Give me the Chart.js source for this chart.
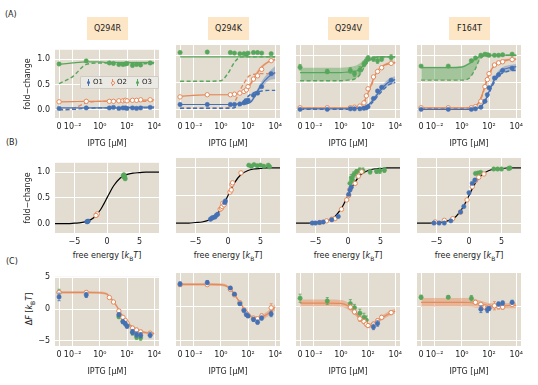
<!DOCTYPE html>
<html>
<head>
<meta charset="utf-8">
<title>Inducer-binding mutants: induction, collapse and free-energy shift</title>
<script src="https://cdn.jsdelivr.net/npm/chart.js@4.4.1/dist/chart.umd.min.js"></script>
<style>
  html, body { margin: 0; padding: 0; background: #fff; }
  #fig { position: relative; width: 538px; height: 385px; overflow: hidden; font-family: "DejaVu Sans", sans-serif; color: #222; }
  #fig canvas { position: absolute; }
  .tag { position: absolute; font-size: 8px; line-height: 10px; }
  .mut { position: absolute; top: 17px; width: 41px; height: 23px; line-height: 23px; background: #fde6c6; font-size: 8px; text-align: center; }
  .xlab { position: absolute; width: 104px; text-align: center; font-size: 8px; line-height: 10px; white-space: nowrap; }
  .ylab { position: absolute; width: 60px; text-align: center; font-size: 8px; line-height: 10px; white-space: nowrap; transform: rotate(-90deg); }
  sub { font-size: 6px; line-height: 0; }
  .legend { position: absolute; z-index: 5; left: 80px; top: 76px; width: 77px; height: 11px; background: rgba(236,233,228,0.92); border: 0.5px solid #d0ccc4; border-radius: 1px; font-size: 7px; line-height: 11px; }
  .legend span { position: absolute; top: 0; }
  .legend i { position: absolute; top: 4px; width: 3px; height: 3px; border-radius: 50%; }
  .legend b { position: absolute; top: 2px; width: 1px; height: 7px; }
</style>
</head>
<body>
<div id="fig">
  <div class="tag" style="left:5px;top:10px">(A)</div>
  <div class="tag" style="left:6px;top:138px">(B)</div>
  <div class="tag" style="left:6px;top:257px">(C)</div>

  <div class="mut" style="left:87px">Q294R</div>
  <div class="mut" style="left:208px">Q294K</div>
  <div class="mut" style="left:328px">Q294V</div>
  <div class="mut" style="left:449px">F164T</div>

  <div class="xlab" style="left:55px;top:251px">free energy [<i>k</i><sub>B</sub><i>T</i>]</div>
  <div class="xlab" style="left:176px;top:251px">free energy [<i>k</i><sub>B</sub><i>T</i>]</div>
  <div class="xlab" style="left:296px;top:251px">free energy [<i>k</i><sub>B</sub><i>T</i>]</div>
  <div class="xlab" style="left:417px;top:251px">free energy [<i>k</i><sub>B</sub><i>T</i>]</div>
  <div class="ylab" style="left:0px;top:304px">Δ<i>F</i> [<i>k</i><sub>B</sub><i>T</i>]</div>

  <div class="legend">
    <b style="left:7px;background:#4470b4"></b><i style="left:6px;background:#4470b4"></i><span style="left:12px">O1</span>
    <b style="left:31px;background:#e58a5b"></b><i style="left:30px;background:#fff;border:0.5px solid #e58a5b;width:2px;height:2px"></i><span style="left:36px">O2</span>
    <b style="left:56px;background:#56a65b"></b><i style="left:55px;background:#56a65b"></i><span style="left:61px">O3</span>
  </div>
</div>

<script>
// 공통 농도 (µM) - 측정점과 곡선용
var iptg = [0, 0.1, 5, 10, 25, 50, 75, 100, 250, 500, 1000, 5000];
var curveIptg = [0, 0.01, 0.1, 1, 3.2, 10, 18, 32, 56, 100, 180, 320, 560, 1000, 3200, 10000];

// (A) fold-change - Q294R
var q294rO1 = [0.03, 0.04, 0.04, 0.05, 0.03, 0.04, 0.04, 0.03, 0.04, 0.03, 0.04, 0.05];
var q294rO2 = [0.16, 0.17, 0.17, 0.17, 0.18, 0.18, 0.19, 0.18, 0.19, 0.19, 0.2, 0.2];
var q294rO3 = [0.91, 0.97, 0.93, 0.92, 0.9, 0.9, 0.91, 0.92, 0.88, 0.9, 0.89, 0.93];
var q294rO1Fit = [0.04, 0.04, 0.04, 0.04, 0.04, 0.04, 0.04, 0.045, 0.045, 0.05, 0.05, 0.05, 0.05, 0.055, 0.055, 0.06];
var q294rO1Pred = [0.0, 0.01, 0.03, 0.04, 0.04, 0.04, 0.04, 0.04, 0.04, 0.04, 0.04, 0.04, 0.04, 0.04, 0.04, 0.04];
var q294rO2Fit = [0.16, 0.165, 0.17, 0.17, 0.175, 0.175, 0.18, 0.18, 0.185, 0.185, 0.19, 0.19, 0.19, 0.195, 0.195, 0.2];
var q294rO2Pred = [0.01, 0.03, 0.14, 0.17, 0.17, 0.17, 0.17, 0.17, 0.17, 0.17, 0.17, 0.17, 0.17, 0.17, 0.17, 0.17];
var q294rO3Fit = [0.9, 0.93, 0.95, 0.95, 0.94, 0.94, 0.94, 0.94, 0.94, 0.94, 0.94, 0.94, 0.94, 0.94, 0.94, 0.94];
var q294rO3Pred = [0.52, 0.66, 0.9, 0.93, 0.93, 0.93, 0.93, 0.93, 0.93, 0.92, 0.92, 0.92, 0.91, 0.91, 0.92, 0.92];

// (A) fold-change - Q294K
var q294kO1 = [0.09, 0.09, 0.09, 0.09, 0.1, 0.12, 0.15, 0.17, 0.26, 0.3, 0.42, 0.66];
var q294kO2 = [0.23, 0.27, 0.27, 0.28, 0.3, 0.33, 0.36, 0.42, 0.56, 0.62, 0.74, 0.9];
var q294kO3 = [1.05, 1.06, 1.05, 1.04, 1.03, 1.03, 1.02, 1.04, 1.05, 1.05, 1.04, 1.03];
var q294kO1Fit = [0.09, 0.09, 0.09, 0.09, 0.09, 0.09, 0.1, 0.1, 0.1, 0.11, 0.15, 0.25, 0.36, 0.46, 0.6, 0.68];
var q294kO1Hi = [0.1, 0.1, 0.1, 0.1, 0.1, 0.1, 0.11, 0.11, 0.12, 0.13, 0.18, 0.29, 0.41, 0.52, 0.68, 0.8];
var q294kO1Lo = [0.08, 0.08, 0.08, 0.08, 0.08, 0.08, 0.09, 0.09, 0.09, 0.1, 0.13, 0.21, 0.31, 0.4, 0.53, 0.56];
var q294kO1Pred = [0.02, 0.02, 0.02, 0.02, 0.02, 0.03, 0.06, 0.11, 0.18, 0.24, 0.29, 0.32, 0.33, 0.34, 0.35, 0.35];
var q294kO2Fit = [0.24, 0.26, 0.27, 0.27, 0.27, 0.28, 0.29, 0.31, 0.35, 0.41, 0.5, 0.6, 0.7, 0.78, 0.88, 0.92];
var q294kO2Hi = [0.25, 0.27, 0.28, 0.28, 0.28, 0.29, 0.3, 0.33, 0.37, 0.44, 0.54, 0.64, 0.74, 0.81, 0.9, 0.94];
var q294kO2Lo = [0.23, 0.25, 0.26, 0.26, 0.26, 0.27, 0.28, 0.29, 0.33, 0.38, 0.46, 0.56, 0.66, 0.75, 0.86, 0.9];
var q294kO2Pred = [0.02, 0.02, 0.02, 0.02, 0.03, 0.13, 0.26, 0.4, 0.5, 0.6, 0.64, 0.65, 0.66, 0.66, 0.66, 0.66];
var q294kO3Fit = [0.97, 0.97, 0.97, 0.97, 0.97, 0.97, 0.97, 0.97, 0.97, 0.97, 0.97, 0.97, 0.97, 0.97, 0.97, 0.97];
var q294kO3Pred = [0.52, 0.52, 0.52, 0.53, 0.66, 0.87, 0.94, 0.97, 0.97, 0.97, 0.97, 0.97, 0.97, 0.97, 0.97, 0.97];

// (A) fold-change - Q294V
var q294vO1 = [0.0, 0.0, 0.01, 0.01, 0.01, 0.02, 0.03, 0.05, 0.2, 0.34, 0.41, 0.54];
var q294vO2 = [0.03, 0.03, 0.03, 0.04, 0.06, 0.12, 0.25, 0.38, 0.6, 0.7, 0.77, 0.85];
var q294vO3 = [0.78, 0.7, 0.72, 0.66, 0.73, 0.84, 0.9, 0.95, 0.93, 0.9, 0.93, 0.96];
var q294vO3Err = [0.05, 0.04, 0.05, 0.05, 0.06, 0.05, 0.05, 0.04, 0.04, 0.05, 0.04, 0.05];
var q294vO1Fit = [0.01, 0.01, 0.01, 0.01, 0.01, 0.01, 0.02, 0.03, 0.05, 0.08, 0.14, 0.22, 0.3, 0.38, 0.5, 0.55];
var q294vO1Hi = [0.02, 0.02, 0.02, 0.02, 0.02, 0.02, 0.03, 0.04, 0.06, 0.1, 0.17, 0.26, 0.35, 0.43, 0.56, 0.61];
var q294vO1Lo = [0.0, 0.0, 0.0, 0.0, 0.0, 0.0, 0.01, 0.02, 0.04, 0.06, 0.11, 0.18, 0.25, 0.33, 0.44, 0.48];
var q294vO1Pred = [0.0, 0.0, 0.0, 0.0, 0.0, 0.01, 0.01, 0.02, 0.04, 0.06, 0.11, 0.18, 0.26, 0.33, 0.45, 0.5];
var q294vO2Fit = [0.03, 0.03, 0.03, 0.03, 0.03, 0.04, 0.05, 0.08, 0.16, 0.3, 0.47, 0.62, 0.73, 0.79, 0.85, 0.87];
var q294vO2Hi = [0.04, 0.04, 0.04, 0.04, 0.04, 0.05, 0.06, 0.1, 0.19, 0.34, 0.51, 0.65, 0.75, 0.81, 0.87, 0.89];
var q294vO2Lo = [0.02, 0.02, 0.02, 0.02, 0.02, 0.03, 0.04, 0.07, 0.14, 0.27, 0.43, 0.59, 0.71, 0.77, 0.83, 0.85];
var q294vO2Pred = [0.02, 0.02, 0.02, 0.02, 0.02, 0.03, 0.04, 0.07, 0.14, 0.28, 0.45, 0.6, 0.71, 0.78, 0.84, 0.86];
var q294vO3Fit = [0.68, 0.68, 0.68, 0.68, 0.69, 0.7, 0.72, 0.77, 0.84, 0.9, 0.94, 0.96, 0.97, 0.97, 0.97, 0.97];
var q294vO3Hi = [0.77, 0.77, 0.77, 0.77, 0.78, 0.8, 0.83, 0.87, 0.92, 0.95, 0.97, 0.98, 0.98, 0.98, 0.98, 0.98];
var q294vO3Lo = [0.53, 0.53, 0.53, 0.53, 0.54, 0.56, 0.6, 0.68, 0.78, 0.87, 0.92, 0.95, 0.96, 0.96, 0.96, 0.96];
var q294vO3Pred = [0.53, 0.53, 0.53, 0.53, 0.54, 0.56, 0.6, 0.68, 0.79, 0.88, 0.93, 0.96, 0.97, 0.97, 0.97, 0.97];

// (A) fold-change - F164T
var f164tO1 = [0.0, 0.0, 0.0, 0.01, 0.04, 0.15, 0.27, 0.4, 0.58, 0.64, 0.72, 0.76];
var f164tO2 = [0.03, 0.03, 0.03, 0.05, 0.15, 0.42, 0.55, 0.66, 0.82, 0.86, 0.88, 0.92];
var f164tO3 = [0.8, 0.8, 0.9, 0.95, 1.0, 1.02, 1.01, 1.0, 1.0, 1.0, 1.01, 1.02];
var f164tO1Fit = [0.0, 0.0, 0.0, 0.0, 0.0, 0.01, 0.03, 0.08, 0.18, 0.33, 0.48, 0.6, 0.68, 0.73, 0.77, 0.79];
var f164tO1Hi = [0.01, 0.01, 0.01, 0.01, 0.01, 0.02, 0.04, 0.1, 0.21, 0.37, 0.53, 0.65, 0.73, 0.78, 0.82, 0.84];
var f164tO1Lo = [0.0, 0.0, 0.0, 0.0, 0.0, 0.0, 0.02, 0.06, 0.15, 0.29, 0.43, 0.55, 0.62, 0.67, 0.7, 0.72];
var f164tO1Pred = [0.0, 0.0, 0.0, 0.0, 0.0, 0.01, 0.02, 0.07, 0.16, 0.3, 0.44, 0.55, 0.63, 0.67, 0.71, 0.72];
var f164tO2Fit = [0.03, 0.03, 0.03, 0.03, 0.03, 0.06, 0.13, 0.28, 0.48, 0.65, 0.77, 0.84, 0.88, 0.9, 0.92, 0.93];
var f164tO2Hi = [0.04, 0.04, 0.04, 0.04, 0.04, 0.08, 0.16, 0.31, 0.51, 0.68, 0.79, 0.86, 0.9, 0.92, 0.94, 0.95];
var f164tO2Lo = [0.02, 0.02, 0.02, 0.02, 0.02, 0.04, 0.11, 0.25, 0.45, 0.62, 0.75, 0.82, 0.86, 0.88, 0.9, 0.91];
var f164tO2Pred = [0.02, 0.02, 0.02, 0.02, 0.03, 0.05, 0.12, 0.26, 0.46, 0.63, 0.76, 0.83, 0.87, 0.89, 0.91, 0.92];
var f164tO3Fit = [0.77, 0.77, 0.77, 0.78, 0.84, 0.93, 0.97, 0.99, 1.0, 1.0, 1.0, 1.0, 1.0, 1.0, 1.0, 1.0];
var f164tO3Hi = [0.79, 0.79, 0.79, 0.8, 0.86, 0.94, 0.98, 1.0, 1.01, 1.01, 1.01, 1.01, 1.01, 1.01, 1.01, 1.01];
var f164tO3Lo = [0.54, 0.54, 0.54, 0.54, 0.57, 0.75, 0.9, 0.97, 0.99, 1.0, 1.0, 1.0, 1.0, 1.0, 1.0, 1.0];
var f164tO3Pred = [0.54, 0.54, 0.54, 0.54, 0.57, 0.75, 0.9, 0.97, 0.99, 1.0, 1.0, 1.0, 1.0, 1.0, 1.0, 1.0];

// (B) data collapse: [free energy, fold-change, err]
var energyGrid = [-8, -6, -5, -4, -3, -2, -1, -0.5, 0, 0.5, 1, 2, 3, 4, 5, 6, 8];
var collapseCurve = [0.0, 0.0, 0.01, 0.02, 0.05, 0.12, 0.27, 0.38, 0.5, 0.62, 0.73, 0.88, 0.95, 0.98, 0.99, 1.0, 1.0];
var bQ294rO1 = [[-3.0, 0.04], [-2.9, 0.05], [-3.1, 0.04]];
var bQ294rO2 = [[-1.6, 0.17], [-1.5, 0.19], [-1.7, 0.16]];
var bQ294rO3 = [[2.5, 0.93], [2.6, 0.91], [2.7, 0.9], [2.6, 0.95], [2.8, 0.87], [2.7, 0.92]];
var bQ294kO1 = [[-2.7, 0.07], [-2.5, 0.09], [-2.3, 0.1], [-2.0, 0.11], [-1.8, 0.14], [-1.6, 0.16], [-0.5, 0.37], [-0.4, 0.4]];
var bQ294kO2 = [[-1.2, 0.25], [-1.0, 0.27], [-0.9, 0.3], [-0.8, 0.36], [-0.6, 0.33], [0.3, 0.56], [0.5, 0.6], [0.6, 0.7], [0.7, 0.73], [2.0, 0.91]];
var bQ294kO3 = [[3.2, 1.05], [3.6, 1.03], [4.0, 1.06], [4.5, 1.04], [5.0, 1.05], [5.5, 1.03], [6.2, 1.05], [6.4, 1.02]];
var bQ294vO1 = [[-5.5, 0.0], [-5.0, 0.0], [-4.4, 0.01], [-3.8, 0.02], [-2.5, 0.06], [-1.5, 0.12], [0.1, 0.52], [0.3, 0.6], [0.5, 0.65]];
var bQ294vO2 = [[-4.3, 0.01], [-3.3, 0.04], [-2.5, 0.07], [-2.0, 0.08], [-1.0, 0.25], [-0.2, 0.42], [0.1, 0.5], [0.3, 0.61], [1.1, 0.72], [1.6, 0.85], [2.1, 0.93]];
var bQ294vO3 = [[0.3, 0.72, 0.06], [0.5, 0.82, 0.06], [0.7, 0.78, 0.05], [0.9, 0.88, 0.05], [1.3, 0.93, 0.04], [1.8, 0.96, 0.04], [2.3, 0.95, 0.05], [3.4, 0.93, 0.04], [4.4, 0.94, 0.04], [4.9, 0.95, 0.05], [5.6, 0.96, 0.04]];
var bF164tO1 = [[-5.4, 0.0], [-4.6, 0.0], [-3.8, 0.0], [-2.8, 0.04], [-1.3, 0.2], [-0.8, 0.3], [0.0, 0.55], [0.5, 0.72], [0.9, 0.78]];
var bF164tO2 = [[-5.2, 0.02], [-3.8, 0.05], [-2.5, 0.08], [-1.3, 0.2], [-0.3, 0.42], [0.5, 0.66], [1.0, 0.77], [1.5, 0.83], [2.3, 0.89]];
var bF164tO3 = [[1.0, 0.9], [1.4, 0.91], [1.8, 0.92], [3.8, 0.98], [4.4, 0.98], [5.0, 0.98], [6.1, 0.99], [6.3, 1.0]];

// (C) ΔF (k_BT) per IPTG
var cQ294rO1 = [1.9, 2.2, null, null, -0.9, -2.0, -2.3, -2.7, -3.6, -4.0, -4.1, -4.1];
var cQ294rO1Err = [0.6, 0.4, 0, 0, 0.3, 0.3, 0.3, 0.3, 0.4, 0.4, 0.4, 0.4];
var cQ294rO2 = [2.6, 2.6, 1.8, 1.1, -0.3, -1.3, -1.8, -2.2, -3.0, -3.3, -3.6, -3.8];
var cQ294rO2Err = [0.3, 0.3, 0.2, 0.2, 0.2, 0.2, 0.3, 0.3, 0.3, 0.3, 0.3, 0.3];
var cQ294rO3 = [2.6, null, null, null, -1.2, -1.9, -2.2, -2.5, -3.7, -4.4, -4.5, null];
var cQ294rO3Err = [0.5, 0, 0, 0, 0.3, 0.3, 0.3, 0.3, 0.4, 0.4, 0.4, 0];
var cQ294rFit = [2.6, 2.6, 2.6, 2.55, 2.35, 1.2, 0.4, -0.5, -1.3, -2.0, -2.6, -3.0, -3.3, -3.55, -3.75, -3.85];
var cQ294rHi = [2.8, 2.8, 2.8, 2.75, 2.55, 1.4, 0.6, -0.3, -1.1, -1.8, -2.4, -2.8, -3.1, -3.35, -3.55, -3.65];
var cQ294rLo = [2.4, 2.4, 2.4, 2.35, 2.15, 1.0, 0.2, -0.7, -1.5, -2.2, -2.8, -3.2, -3.5, -3.75, -3.95, -4.05];

var cQ294kO1 = [3.3, 3.5, 2.7, 1.8, 0.4, -0.6, -1.2, -1.4, -1.9, -2.3, -1.7, -1.1];
var cQ294kO1Err = [0.3, 0.3, 0.2, 0.2, 0.2, 0.2, 0.2, 0.2, 0.3, 0.3, 0.3, 0.4];
var cQ294kO2 = [3.2, 3.2, 2.5, 1.7, 0.55, -0.5, -1.0, -1.3, -1.7, -1.8, -1.4, -0.2];
var cQ294kO2Err = [0.2, 0.2, 0.2, 0.2, 0.2, 0.2, 0.2, 0.2, 0.2, 0.2, 0.3, 0.6];
var cQ294kFit = [3.25, 3.25, 3.25, 3.2, 2.9, 1.8, 1.0, 0.3, -0.5, -1.1, -1.5, -1.7, -1.75, -1.6, -1.0, -0.1];
var cQ294kHi = [3.45, 3.45, 3.45, 3.4, 3.1, 2.0, 1.2, 0.5, -0.3, -0.9, -1.3, -1.45, -1.45, -1.25, -0.6, 0.35];
var cQ294kLo = [3.05, 3.05, 3.05, 3.0, 2.7, 1.6, 0.8, 0.1, -0.7, -1.3, -1.7, -1.95, -2.05, -1.95, -1.4, -0.55];

var cQ294vO1 = [null, null, null, null, null, null, null, null, -3.0, -2.5, null, null];
var cQ294vO1Err = [0, 0, 0, 0, 0, 0, 0, 0, 0.4, 0.4, 0, 0];
var cQ294vO2 = [null, null, -0.1, -0.8, -1.8, -2.2, -2.6, -2.8, -2.6, -2.1, -1.6, -0.9];
var cQ294vO2Err = [0, 0, 0.3, 0.3, 0.4, 0.3, 0.3, 0.3, 0.3, 0.3, 0.3, 0.3];
var cQ294vO3 = [1.2, 0.8, 0.4, -0.2, -1.0, -1.6, -2.0, null, null, null, null, null];
var cQ294vO3Err = [0.6, 0.5, 0.6, 0.5, 0.6, 0.6, 0.6, 0, 0, 0, 0, 0];
var cQ294vFit = [0.5, 0.5, 0.5, 0.45, 0.1, -0.8, -1.4, -2.0, -2.5, -2.8, -2.8, -2.5, -2.1, -1.7, -1.1, -0.7];
var cQ294vHi = [1.0, 1.0, 1.0, 0.95, 0.6, -0.4, -1.05, -1.7, -2.2, -2.5, -2.45, -2.15, -1.75, -1.35, -0.75, -0.35];
var cQ294vLo = [0.0, 0.0, 0.0, -0.05, -0.4, -1.2, -1.75, -2.3, -2.8, -3.1, -3.15, -2.85, -2.45, -2.05, -1.45, -1.05];

var cF164tO1 = [null, null, null, null, -0.4, null, -0.5, -0.3, null, 0.35, 0.5, 0.6];
var cF164tO1Err = [0, 0, 0, 0, 0.5, 0, 0.4, 0.3, 0, 0.3, 0.3, 0.3];
var cF164tO2 = [null, null, null, 0.6, 0.3, -0.1, -0.2, -0.1, 0.1, 0.0, -0.1, 0.3];
var cF164tO2Err = [0, 0, 0, 0.3, 0.3, 0.3, 0.3, 0.3, 0.6, 0.4, 0.3, 0.3];
var cF164tO3 = [1.35, 1.35, 1.2, null, null, null, null, null, null, null, null, null];
var cF164tO3Err = [0.3, 0.2, 0.4, 0, 0, 0, 0, 0, 0, 0, 0, 0];
var cF164tFit = [0.6, 0.6, 0.6, 0.6, 0.58, 0.45, 0.35, 0.25, 0.15, 0.1, 0.06, 0.05, 0.06, 0.08, 0.12, 0.15];
var cF164tHi = [1.25, 1.25, 1.25, 1.25, 1.22, 1.05, 0.9, 0.75, 0.6, 0.5, 0.45, 0.42, 0.42, 0.45, 0.5, 0.55];
var cF164tLo = [-0.05, -0.05, -0.05, -0.05, -0.06, -0.15, -0.2, -0.25, -0.3, -0.3, -0.33, -0.32, -0.3, -0.29, -0.26, -0.25];

// 색상
var BLUE = "#4470b4", ORANGE = "#e58a5b", GREEN = "#56a65b";
var BLUE_BAND = "rgba(68,112,180,0.35)", ORANGE_BAND = "rgba(229,138,91,0.45)", GREEN_BAND = "rgba(86,166,91,0.45)";
var PANEL_BG = "#e3dcd0";

// 패널 배치
var LEFTS = [55, 176, 296, 417];
var PANEL_W = 104;
var ROW_A = { top: 45, h: 73 }, ROW_B = { top: 158, h: 75 }, ROW_C = { top: 272, h: 74 };
var YW = 32, PT = 5, PR = 10, XH = 31;

Chart.defaults.font.family = "'DejaVu Sans', sans-serif";
Chart.defaults.font.size = 8;
Chart.defaults.color = "#222";

// symlog 축 (0 ~ 10^-2 선형 구간)
function symlog(c) {
	return c < 0.01 ? -3 + c / 0.01 : Math.log10(c);
}

function toPts(xs, ys, errs) {
	var out = [];
	for (var i = 0; i < ys.length; i++) {
		if (ys[i] === null) continue;
		out.push({ x: symlog(xs[i]), y: ys[i], e: errs ? errs[i] : 0 });
	}
	return out;
}

function pairPts(pairs) {
	return pairs.map(function(p) { return { x: p[0], y: p[1], e: p[2] || 0 }; });
}

function dots(color, hollow, data) {
	return {
		data: data, showLine: false, order: 0, borderColor: color,
		pointRadius: 2.2, pointBorderWidth: hollow ? 1 : 0.5,
		pointBackgroundColor: hollow ? "#fff" : color, pointBorderColor: color
	};
}

function line(color, data, dashed) {
	return {
		data: data, order: 1, borderColor: color, borderWidth: dashed ? 1.4 : 1.2,
		borderDash: dashed ? [4, 2.5] : [], pointRadius: 0, cubicInterpolationMode: "monotone", fill: false
	};
}

function band(color, hi, lo) {
	return [
		{ data: hi, order: 2, borderWidth: 0, pointRadius: 0, cubicInterpolationMode: "monotone", backgroundColor: color, fill: "+1" },
		{ data: lo, order: 2, borderWidth: 0, pointRadius: 0, cubicInterpolationMode: "monotone", fill: false }
	];
}

function inductionSets(m) {
	var sets = [
		dots(BLUE, false, toPts(iptg, m.o1)),
		dots(ORANGE, true, toPts(iptg, m.o2)),
		dots(GREEN, false, toPts(iptg, m.o3, m.o3Err))
	];
	[["o1", BLUE, BLUE_BAND], ["o2", ORANGE, ORANGE_BAND], ["o3", GREEN, GREEN_BAND]].forEach(function(s) {
		sets.push(line(s[1], toPts(curveIptg, m[s[0] + "Fit"]), false));
		sets.push(line(s[1], toPts(curveIptg, m[s[0] + "Pred"]), true));
		if (m[s[0] + "Hi"]) {
			sets = sets.concat(band(s[2], toPts(curveIptg, m[s[0] + "Hi"]), toPts(curveIptg, m[s[0] + "Lo"])));
		}
	});
	return sets;
}

function collapseSets(o1, o2, o3) {
	var curve = energyGrid.map(function(f, i) { return { x: f, y: collapseCurve[i] }; });
	return [
		dots(BLUE, false, pairPts(o1)),
		dots(ORANGE, true, pairPts(o2)),
		dots(GREEN, false, pairPts(o3)),
		line("#000", curve, false)
	];
}

function deltaFSets(m) {
	return [
		dots(BLUE, false, toPts(iptg, m.o1, m.o1Err)),
		dots(ORANGE, true, toPts(iptg, m.o2, m.o2Err)),
		dots(GREEN, false, toPts(iptg, m.o3, m.o3Err)),
		line(ORANGE, toPts(curveIptg, m.fit), false)
	].concat(band(ORANGE_BAND, toPts(curveIptg, m.hi), toPts(curveIptg, m.lo)));
}

// 패널 배경
var panelBg = {
	id: "panelBg",
	beforeDraw: function(chart) {
		var a = chart.chartArea, ctx = chart.ctx;
		ctx.save();
		ctx.fillStyle = PANEL_BG;
		ctx.fillRect(a.left, a.top, a.right - a.left, a.bottom - a.top);
		ctx.restore();
	}
};

// 오차 막대
var errorBars = {
	id: "errorBars",
	beforeDatasetDraw: function(chart, args) {
		var ds = chart.data.datasets[args.index];
		if (ds.showLine !== false) return;
		var ys = chart.scales.y, ctx = chart.ctx;
		ctx.save();
		ctx.strokeStyle = ds.borderColor;
		ctx.lineWidth = 0.8;
		args.meta.data.forEach(function(pt, i) {
			var d = ds.data[i];
			if (!d.e) return;
			var top = ys.getPixelForValue(d.y + d.e), bot = ys.getPixelForValue(d.y - d.e);
			ctx.beginPath();
			ctx.moveTo(pt.x, top); ctx.lineTo(pt.x, bot);
			ctx.moveTo(pt.x - 1.5, top); ctx.lineTo(pt.x + 1.5, top);
			ctx.moveTo(pt.x - 1.5, bot); ctx.lineTo(pt.x + 1.5, bot);
			ctx.stroke();
		});
		ctx.restore();
	}
};

var iptgTicks = [-3, -2, 0, 2, 4];
var iptgLabels = { "-3": "0", "-2": "10\u207B\u00B2", "0": "10\u2070", "2": "10\u00B2", "4": "10\u2074" };

function axisX(kind, showTitle) {
	var isIptg = kind === "iptg";
	var vals = isIptg ? iptgTicks : [-5, 0, 5];
	return {
		type: "linear",
		min: isIptg ? -3.3 : -8,
		max: isIptg ? 4.35 : 8,
		afterBuildTicks: function(s) { s.ticks = vals.map(function(v) { return { value: v }; }); },
		afterFit: function(s) { s.height = XH; },
		grid: { color: "#fff", lineWidth: 1, drawTicks: false },
		border: { display: false },
		ticks: {
			padding: 4, autoSkip: false, maxRotation: 0,
			callback: function(v) { return isIptg ? iptgLabels[String(v)] : (v < 0 ? "\u2212" + Math.abs(v) : String(v)); }
		},
		title: { display: showTitle, text: "IPTG [\u00B5M]", padding: 0 }
	};
}

function axisY(kind, first) {
	var isFc = kind === "fc";
	var vals = isFc ? [0, 0.5, 1] : [-5, 0, 5];
	return {
		min: isFc ? -0.16 : -5.8,
		max: isFc ? 1.19 : 5.05,
		afterBuildTicks: function(s) { s.ticks = vals.map(function(v) { return { value: v }; }); },
		afterFit: function(s) { s.width = YW; },
		grid: { color: "#fff", lineWidth: 1, drawTicks: false },
		border: { display: false },
		ticks: {
			display: first, padding: 5, autoSkip: false,
			callback: function(v) { return isFc ? v.toFixed(1) : (v < 0 ? "\u2212" + Math.abs(v) : String(v)); }
		},
		title: { display: first && isFc, text: "fold\u2212change", padding: 0 }
	};
}

function addPanel(col, row, datasets, xKind, yKind, yMin, yMax) {
	var c = document.createElement("canvas");
	var w = YW + PANEL_W + PR, h = PT + row.h + XH;
	c.width = w;
	c.height = h;
	c.style.left = (LEFTS[col] - YW) + "px";
	c.style.top = (row.top - PT) + "px";
	c.style.width = w + "px";
	c.style.height = h + "px";
	document.getElementById("fig").appendChild(c);

	var y = axisY(yKind, col === 0);
	if (yMin !== undefined) { y.min = yMin; y.max = yMax; }

	return new Chart(c, {
		type: "line",
		data: { datasets: datasets },
		options: {
			responsive: false,
			animation: false,
			devicePixelRatio: 1,
			events: [],
			layout: { padding: { left: 0, top: PT, right: PR, bottom: 0 } },
			plugins: { legend: { display: false }, tooltip: { enabled: false } },
			scales: { x: axisX(xKind, xKind === "iptg"), y: y }
		},
		plugins: [panelBg, errorBars]
	});
}

// (A) 유도 곡선
var rowAPanels = [
	{ o1: q294rO1, o2: q294rO2, o3: q294rO3, o1Fit: q294rO1Fit, o1Pred: q294rO1Pred, o2Fit: q294rO2Fit, o2Pred: q294rO2Pred, o3Fit: q294rO3Fit, o3Pred: q294rO3Pred },
	{ o1: q294kO1, o2: q294kO2, o3: q294kO3, o1Fit: q294kO1Fit, o1Hi: q294kO1Hi, o1Lo: q294kO1Lo, o1Pred: q294kO1Pred,
	  o2Fit: q294kO2Fit, o2Hi: q294kO2Hi, o2Lo: q294kO2Lo, o2Pred: q294kO2Pred, o3Fit: q294kO3Fit, o3Pred: q294kO3Pred },
	{ o1: q294vO1, o2: q294vO2, o3: q294vO3, o3Err: q294vO3Err, o1Fit: q294vO1Fit, o1Hi: q294vO1Hi, o1Lo: q294vO1Lo, o1Pred: q294vO1Pred,
	  o2Fit: q294vO2Fit, o2Hi: q294vO2Hi, o2Lo: q294vO2Lo, o2Pred: q294vO2Pred, o3Fit: q294vO3Fit, o3Hi: q294vO3Hi, o3Lo: q294vO3Lo, o3Pred: q294vO3Pred },
	{ o1: f164tO1, o2: f164tO2, o3: f164tO3, o1Fit: f164tO1Fit, o1Hi: f164tO1Hi, o1Lo: f164tO1Lo, o1Pred: f164tO1Pred,
	  o2Fit: f164tO2Fit, o2Hi: f164tO2Hi, o2Lo: f164tO2Lo, o2Pred: f164tO2Pred, o3Fit: f164tO3Fit, o3Hi: f164tO3Hi, o3Lo: f164tO3Lo, o3Pred: f164tO3Pred }
];
rowAPanels.forEach(function(m, i) {
	addPanel(i, ROW_A, inductionSets(m), "iptg", "fc");
});

// (B) 데이터 붕괴
var rowBPanels = [
	[bQ294rO1, bQ294rO2, bQ294rO3],
	[bQ294kO1, bQ294kO2, bQ294kO3],
	[bQ294vO1, bQ294vO2, bQ294vO3],
	[bF164tO1, bF164tO2, bF164tO3]
];
rowBPanels.forEach(function(p, i) {
	addPanel(i, ROW_B, collapseSets(p[0], p[1], p[2]), "energy", "fc", -0.18, 1.18);
});

// (C) 자유 에너지 이동
var rowCPanels = [
	{ o1: cQ294rO1, o1Err: cQ294rO1Err, o2: cQ294rO2, o2Err: cQ294rO2Err, o3: cQ294rO3, o3Err: cQ294rO3Err, fit: cQ294rFit, hi: cQ294rHi, lo: cQ294rLo },
	{ o1: cQ294kO1, o1Err: cQ294kO1Err, o2: cQ294kO2, o2Err: cQ294kO2Err, o3: [], o3Err: [], fit: cQ294kFit, hi: cQ294kHi, lo: cQ294kLo },
	{ o1: cQ294vO1, o1Err: cQ294vO1Err, o2: cQ294vO2, o2Err: cQ294vO2Err, o3: cQ294vO3, o3Err: cQ294vO3Err, fit: cQ294vFit, hi: cQ294vHi, lo: cQ294vLo },
	{ o1: cF164tO1, o1Err: cF164tO1Err, o2: cF164tO2, o2Err: cF164tO2Err, o3: cF164tO3, o3Err: cF164tO3Err, fit: cF164tFit, hi: cF164tHi, lo: cF164tLo }
];
rowCPanels.forEach(function(m, i) {
	addPanel(i, ROW_C, deltaFSets(m), "iptg", "df");
});
</script>
</body>
</html>
